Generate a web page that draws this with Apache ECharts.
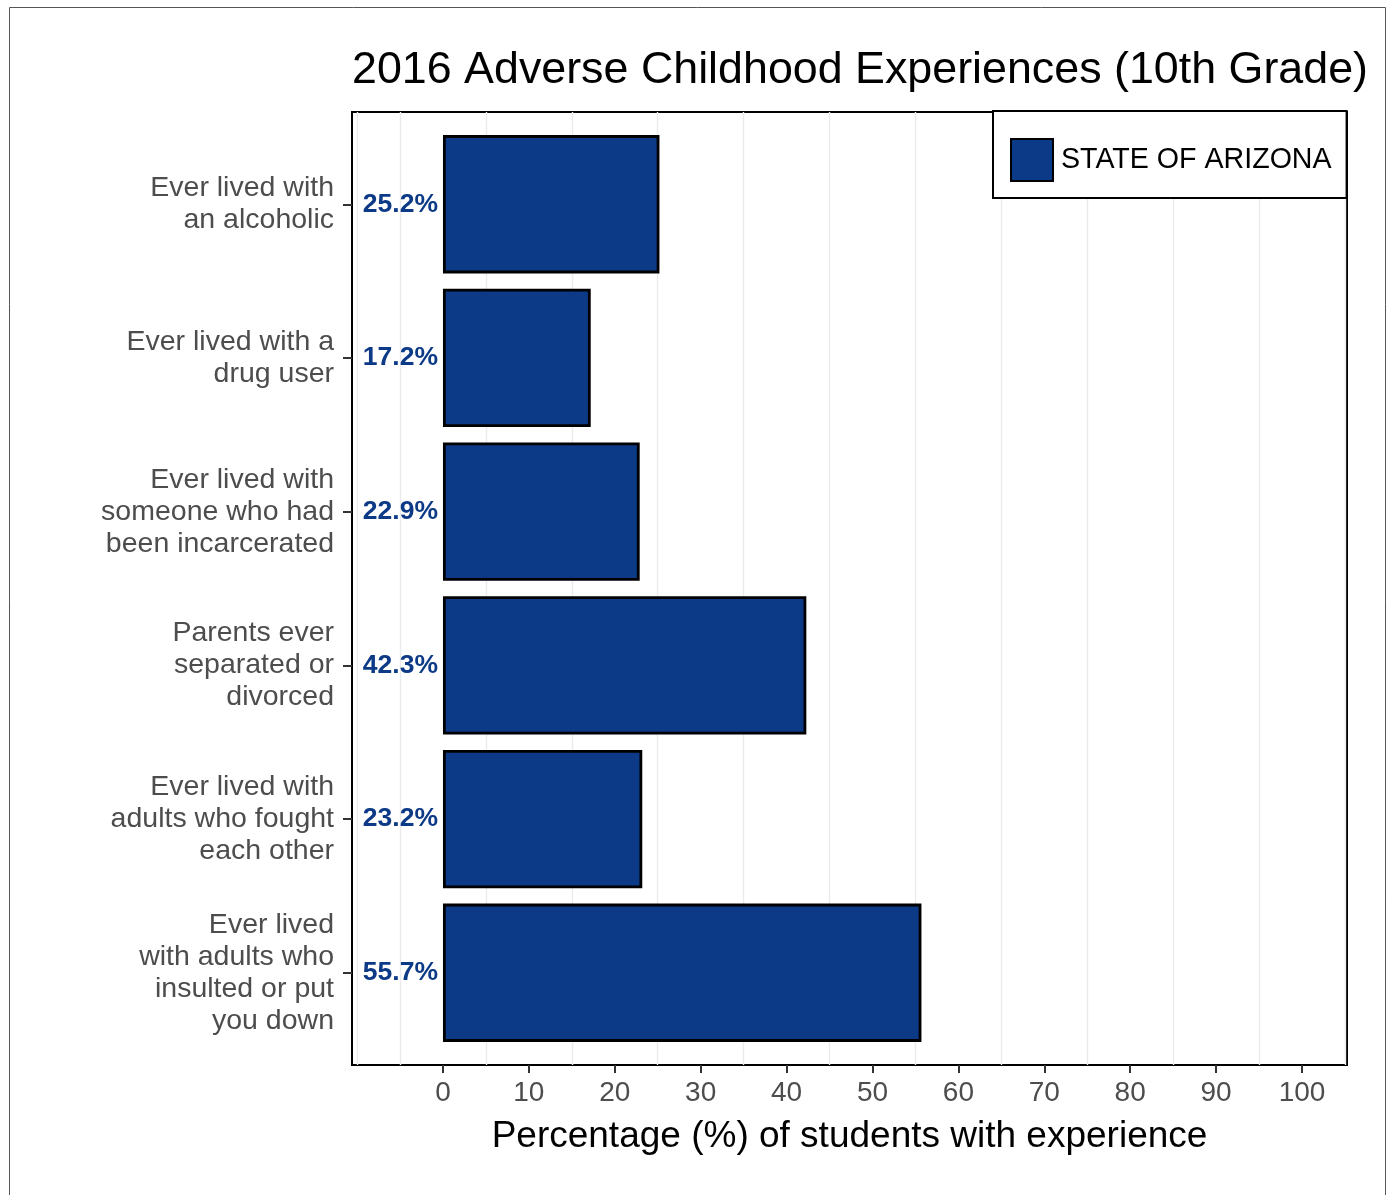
<!DOCTYPE html>
<html>
<head>
<meta charset="utf-8">
<script src="https://cdn.jsdelivr.net/npm/echarts@6/dist/echarts.min.js"></script>
<style>
  html, body { margin: 0; padding: 0; background: #fff; }
  #chart { width: 1394px; height: 1195px; }
</style>
</head>
<body>
<div id="chart"></div>
<script>
// data
const categories = [
  'Ever lived with\nan alcoholic',
  'Ever lived with a\ndrug user',
  'Ever lived with\nsomeone who had\nbeen incarcerated',
  'Parents ever\nseparated or\ndivorced',
  'Ever lived with\nadults who fought\neach other',
  'Ever lived\nwith adults who\ninsulted or put\nyou down'
];
const arizona = [25.2, 17.2, 22.9, 42.3, 23.2, 55.7];
const xTicks = [0, 10, 20, 30, 40, 50, 60, 70, 80, 90, 100];
const minorGrid = [-10, -5, 5, 15, 25, 35, 45, 55, 65, 75, 85, 95, 105];

const FONT = '"Liberation Sans", Arial, sans-serif';
const BLUE = '#0c3a87';
const X_MIN = -10.59;
const X_MAX = 105.24;

const chart = echarts.init(document.getElementById('chart'));

chart.setOption({
  backgroundColor: '#fff',
  animation: false,
  textStyle: { fontFamily: FONT },
  title: {
    text: '2016 Adverse Childhood Experiences (10th Grade)',
    left: 347,
    top: 43,
    textStyle: { fontSize: 44.8, fontWeight: 'normal', color: '#000', fontFamily: FONT }
  },
  legend: {
    data: ['STATE OF ARIZONA'],
    left: 993,
    top: 111,
    orient: 'vertical',
    icon: 'rect',
    itemWidth: 42,
    itemHeight: 42,
    padding: [27, 15, 16, 17],
    backgroundColor: '#fff',
    borderColor: '#000',
    borderWidth: 2,
    textStyle: { fontSize: 28.6, color: '#000', fontFamily: FONT, padding: [0, 0, 0, 3] }
  },
  graphic: [{
    type: 'rect',
    shape: { x: 9.5, y: 7.5, width: 1376, height: 1200 },
    style: { fill: 'none', stroke: '#555', lineWidth: 1 },
    silent: true
  }],
  grid: [
    // bars: band area matches ggplot's discrete expansion
    { left: 352, width: 995, top: 127.4, height: 922.2 },
    // panel border + grid lines
    { left: 352, width: 995, top: 112, height: 953, show: true, borderColor: '#000', borderWidth: 2, backgroundColor: 'transparent' }
  ],
  xAxis: [{
    gridIndex: 0,
    type: 'value',
    min: X_MIN,
    max: X_MAX,
    offset: 15.4,
    axisLine: { show: false, onZero: false },
    splitLine: { show: false },
    axisTick: { show: true, customValues: xTicks, length: 8, lineStyle: { color: '#333', width: 2 } },
    axisLabel: { customValues: xTicks, fontSize: 28, color: '#4d4d4d', margin: 14, fontFamily: FONT },
    name: 'Percentage (%) of students with experience',
    nameLocation: 'middle',
    nameGap: 53,
    nameTextStyle: { fontSize: 37, color: '#000', fontFamily: FONT }
  }, {
    gridIndex: 1,
    type: 'value',
    min: X_MIN,
    max: X_MAX,
    show: false
  }],
  yAxis: [{
    gridIndex: 0,
    type: 'category',
    data: categories,
    inverse: true,
    axisLine: { show: false, onZero: false },
    splitLine: { show: false },
    axisTick: { show: true, alignWithLabel: true, length: 9, lineStyle: { color: '#333', width: 2 } },
    axisLabel: { fontSize: 28.5, color: '#4d4d4d', lineHeight: 32, align: 'right', margin: 18, fontFamily: FONT }
  }, {
    gridIndex: 1,
    type: 'value',
    min: 0,
    max: 1,
    show: false
  }],
  series: [{
    type: 'line',
    xAxisIndex: 1,
    yAxisIndex: 1,
    z: 1,
    data: [],
    silent: true,
    markLine: {
      z: 1,
      silent: true,
      symbol: 'none',
      label: { show: false },
      lineStyle: { type: 'solid', color: '#ebebeb', width: 1.4 },
      data: minorGrid.map(v => ({ xAxis: v }))
    }
  }, {
    name: 'STATE OF ARIZONA',
    type: 'bar',
    xAxisIndex: 0,
    yAxisIndex: 0,
    z: 3,
    data: arizona,
    barCategoryGap: '10%',
    itemStyle: { color: BLUE, borderColor: '#000', borderWidth: 2.8 },
    label: {
      show: true,
      position: 'left',
      distance: 5,
      formatter: p => p.value.toFixed(1) + '%',
      fontSize: 26.5,
      fontWeight: 'bold',
      color: BLUE,
      fontFamily: FONT
    }
  }]
});
</script>
</body>
</html>
